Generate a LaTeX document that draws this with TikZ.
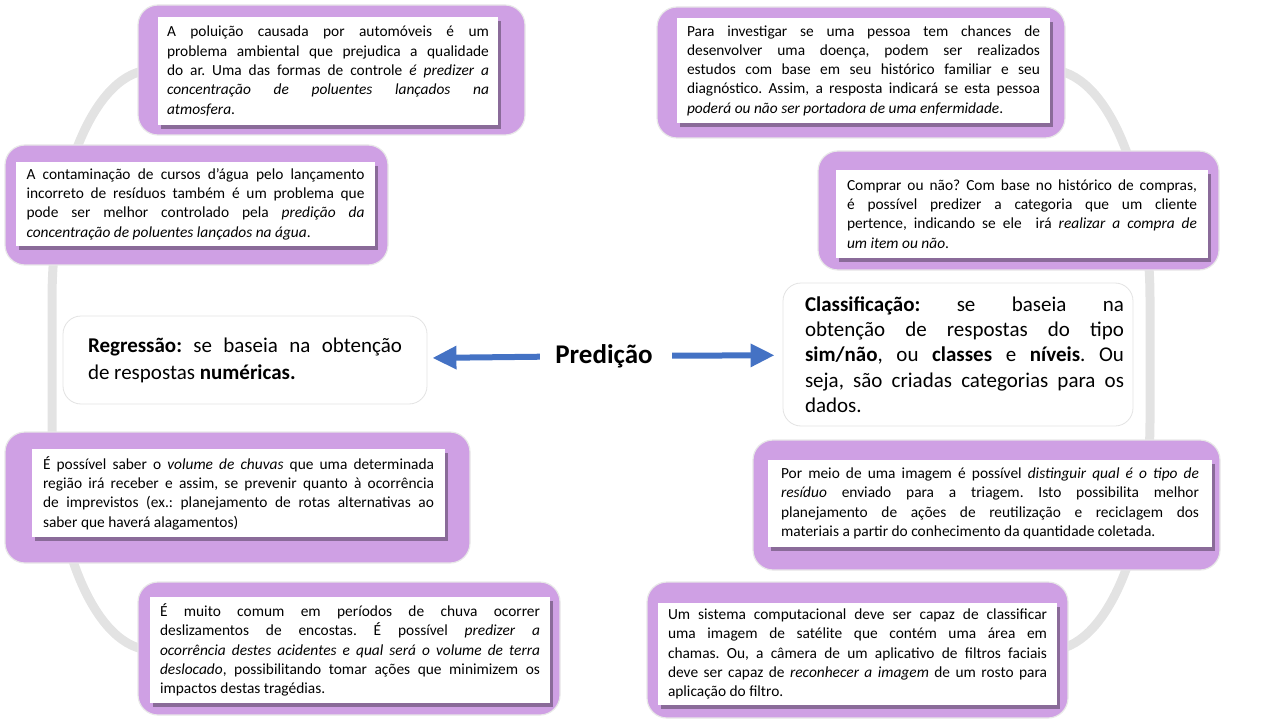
\documentclass[tikz,border=0pt]{standalone}
\usepackage{fontspec}
\setmainfont{Carlito}
\usetikzlibrary{arrows.meta,shadows}
\definecolor{lila}{RGB}{207,160,228}
\definecolor{seta}{RGB}{68,114,196}
\definecolor{sombra}{RGB}{115,90,128}
\hyphenpenalty=10000
\exhyphenpenalty=10000
\tolerance=10000
\frenchspacing
\begin{document}
\begin{tikzpicture}[x=1pt,y=-1pt]
	\tikzset{outerbox/.style={draw=gray!18, line width=1.2pt, fill=lila, rounded corners=20pt, inner sep=0pt},
		textbox/.style={fill=white, inner ysep=0pt, align=justify, font=\fontsize{15.4}{19.3}\selectfont,
			drop shadow={shadow xshift=3pt, shadow yshift=-4pt, fill=sombra, opacity=.75}},
		bigbox/.style={fill=white, draw=gray!22, line width=0.8pt, rounded corners=18pt, align=justify},
		ring/.style={draw=black!11, line width=9pt},
		seta/.style={draw=seta, line width=6pt, -{Triangle[width=22pt,length=24pt]}}}
	\useasboundingbox (0,0) rectangle (1268,727);

	% gray cycle
	\draw[ring] (152,70) arc[start angle=270, end angle=180, x radius=100, y radius=230] -- (52,420)
		arc[start angle=180, end angle=90, x radius=100, y radius=230];
	\draw[ring] (1050,70) arc[start angle=270, end angle=360, x radius=100, y radius=230] -- (1150,420)
		arc[start angle=0, end angle=90, x radius=100, y radius=230];

	% left side (regressao)
	\node[outerbox, minimum width=387, minimum height=130] (o1) at (331.5,70) {};
	\node[textbox, text width=322, inner xsep=9pt, minimum height=108] (t1) at (328,71)
		{A poluição causada por automóveis é um\linebreak problema ambiental que prejudica a qualidade\linebreak do ar. Uma das formas de controle \textit{é predizer a\linebreak concentração de poluentes lançados na\linebreak atmosfera}.};
	\node[outerbox, minimum width=383, minimum height=120] (o2) at (196.5,205) {};
	\node[textbox, text width=338, inner xsep=10.5pt, minimum height=84] (t2) at (195.5,204)
		{A contaminação de cursos d’água pelo lançamento\linebreak incorreto de resíduos também é um problema que\linebreak pode ser melhor controlado pela \textit{predição da\linebreak concentração de poluentes lançados na água}.};
	\node[outerbox, minimum width=465, minimum height=131] (o5) at (237.5,497.5) {};
	\node[textbox, text width=391, inner xsep=11pt, minimum height=88] (t5) at (238.5,493)
		{É possível saber o \textit{volume de chuvas} que uma determinada\linebreak região irá receber e assim, se prevenir quanto à ocorrência\linebreak de imprevistos (ex.: planejamento de rotas alternativas ao\linebreak saber que haverá alagamentos)};
	\node[outerbox, minimum width=422, minimum height=133] (o7) at (349,648.5) {};
	\node[textbox, text width=380, inner xsep=10pt, minimum height=106] (t7) at (350,650)
		{É muito comum em períodos de chuva ocorrer\linebreak deslizamentos de encostas. É possível \textit{predizer a\linebreak ocorrência destes acidentes e qual será o volume de terra\linebreak deslocado}, possibilitando tomar ações que minimizem os\linebreak impactos destas tragédias.};

	% right side (classificacao)
	\node[outerbox, minimum width=408, minimum height=131] (o3) at (861,72.5) {};
	\node[textbox, text width=353, inner xsep=10pt, minimum height=105] (t3) at (863.5,70.5)
		{Para investigar se uma pessoa tem chances de\linebreak desenvolver uma doença, podem ser realizados\linebreak estudos com base em seu histórico familiar e seu\linebreak diagnóstico. Assim, a resposta indicará se esta pessoa\linebreak \textit{poderá ou não ser portadora de uma enfermidade}.};
	\node[outerbox, minimum width=401, minimum height=119] (o4) at (1018.5,210.5) {};
	\node[textbox, text width=350, inner xsep=11pt, minimum height=88] (t4) at (1022,214)
		{Comprar ou não? Com base no histórico de compras,\linebreak é possível predizer a categoria que um cliente\linebreak pertence, indicando se ele \ irá \textit{realizar a compra de\linebreak um item ou não}.};
	\node[outerbox, minimum width=467, minimum height=130] (o6) at (986.5,505) {};
	\node[textbox, text width=418, inner xsep=13pt, minimum height=87] (t6) at (990,503.5)
		{Por meio de uma imagem é possível \textit{distinguir qual é o tipo de\linebreak resíduo} enviado para a triagem. Isto possibilita melhor\linebreak planejamento de ações de reutilização e reciclagem dos\linebreak materiais a partir do conhecimento da quantidade coletada.};
	\node[outerbox, minimum width=421, minimum height=136] (o8) at (857.5,650) {};
	\node[textbox, text width=379, inner xsep=10pt, minimum height=102] (t8) at (857.5,654)
		{Um sistema computacional deve ser capaz de classificar\linebreak uma imagem de satélite que contém uma área em\linebreak chamas. Ou, a câmera de um aplicativo de filtros faciais\linebreak deve ser capaz de \textit{reconhecer a imagem} de um rosto para\linebreak aplicação do filtro.};

	% centre
	\node[font=\fontsize{27}{30}\selectfont\bfseries] (pred) at (604,356) {Predição};
	\node[bigbox, text width=314, inner xsep=25pt, minimum height=88, font=\fontsize{21}{27}\selectfont] (reg) at (245,360)
		{\textbf{Regressão:} se baseia na obtenção\linebreak de respostas \textbf{numéricas.}};
	\node[bigbox, minimum width=350, minimum height=143] (cla) at (958,354.5) {};
	\node[text width=319, inner sep=0pt, align=justify, font=\fontsize{21}{25.3}\selectfont] (clatxt) at (964.5,354.5)
		{\textbf{Classificação:} se baseia na\linebreak obtenção de respostas do tipo\linebreak \textbf{sim/não}, ou \textbf{classes} e \textbf{níveis}. Ou\linebreak seja, são criadas categorias para os\linebreak dados.};

	% arrows
	\draw[seta, shorten <=12pt, shorten >=5pt] (pred) -- (reg);
	\draw[seta, shorten <=16pt, shorten >=8pt] (pred) -- (cla);
\end{tikzpicture}
\end{document}
